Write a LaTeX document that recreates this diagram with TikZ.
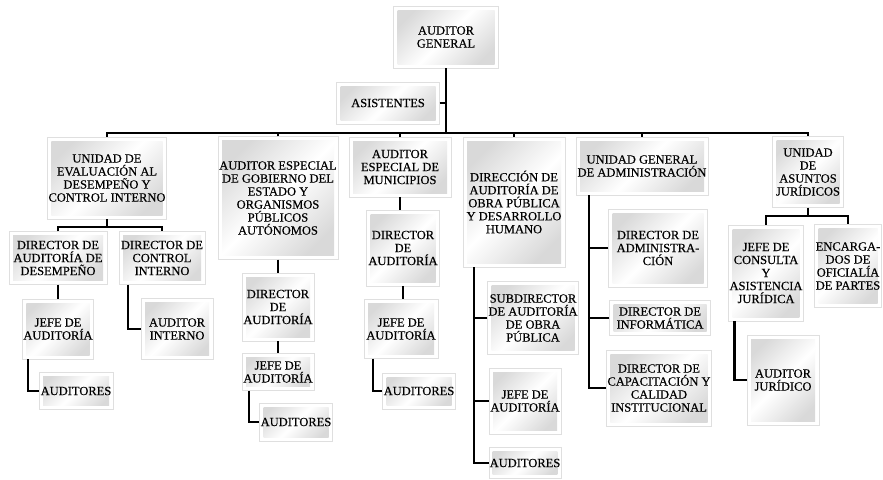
\documentclass[tikz,border=0pt]{standalone}
\usepackage{fontspec}
\setmainfont{Liberation Serif}[FakeBold=0.4]

\tikzset{
  box/.style={draw=gray!25, fill=white, inner sep=1pt, align=center,
    font=\fontsize{12.5}{13}\selectfont,
    path picture={\shade[top color=gray!30, bottom color=gray!30,
        middle color=white, shading angle=45]
      ([shift={(4pt,4pt)}]path picture bounding box.south west) rectangle
      ([shift={(-4pt,-4pt)}]path picture bounding box.north east);}},
  size/.style 2 args={minimum width=#1pt, minimum height=#2pt},
  link/.style={line width=2.5pt, black},
}

\begin{document}
\begin{tikzpicture}[x=1pt, y=-1pt]
  \useasboundingbox (0,0) rectangle (883,479);

  % Top
  \node[box, size={105}{62}] (ag) at (446,37) {AUDITOR\\GENERAL};
  \node[box, size={103}{42}] (asist) at (388,103) {ASISTENTES};

  % First level
  \node[box, size={119}{82}] (ued) at (107,178) {UNIDAD DE\\EVALUACIÓN AL\\DESEMPEÑO Y\\CONTROL INTERNO};
  \node[box, size={120}{123}] (aeg) at (278,198) {AUDITOR ESPECIAL\\DE GOBIERNO DEL\\ESTADO Y\\ORGANISMOS\\PÚBLICOS\\AUTÓNOMOS};
  \node[box, size={102}{60}] (aem) at (400,167) {AUDITOR\\ESPECIAL DE\\MUNICIPIOS};
  \node[box, size={102}{130}] (dao) at (514,202) {DIRECCIÓN DE\\AUDITORÍA DE\\OBRA PÚBLICA\\Y DESARROLLO\\HUMANO};
  \node[box, size={132}{58}] (uga) at (642,166) {UNIDAD GENERAL\\DE ADMINISTRACIÓN};
  \node[box, size={71}{71}] (uaj) at (808,172) {UNIDAD\\DE\\ASUNTOS\\JURÍDICOS};

  % Evaluacion
  \node[box, size={98}{53}] (dad) at (58,258) {DIRECTOR DE\\AUDITORÍA DE\\DESEMPEÑO};
  \node[box, size={86}{53}] (dci) at (162,258) {DIRECTOR DE\\CONTROL\\INTERNO};
  \node[box, size={71}{60}] (jefeA) at (58,329) {JEFE DE\\AUDITORÍA};
  \node[box, size={74}{37}] (audA) at (76,391) {AUDITORES};
  \node[box, size={72}{61}] (aint) at (177,329) {AUDITOR\\INTERNO};

  % Gobierno del estado
  \node[box, size={72}{68}] (dirB) at (278,307) {DIRECTOR\\DE\\AUDITORÍA};
  \node[box, size={72}{37}] (jefeB) at (278,372) {JEFE DE\\AUDITORÍA};
  \node[box, size={73}{38}] (audB) at (296,422) {AUDITORES};

  % Municipios
  \node[box, size={73}{76}] (dirC) at (403,248) {DIRECTOR\\DE\\AUDITORÍA};
  \node[box, size={74}{59}] (jefeC) at (401,329) {JEFE DE\\AUDITORÍA};
  \node[box, size={73}{36}] (audC) at (419,391) {AUDITORES};

  % Obra publica
  \node[box, size={90}{73}] (sub) at (533,318) {SUBDIRECTOR\\DE AUDITORÍA\\DE OBRA\\PÚBLICA};
  \node[box, size={72}{66}] (jefeD) at (525,401) {JEFE DE\\AUDITORÍA};
  \node[box, size={72}{31}] (audD) at (525,463) {AUDITORES};

  % Administracion
  \node[box, size={99}{78}] (dadm) at (658,248) {DIRECTOR DE\\ADMINISTRA-\\CIÓN};
  \node[box, size={101}{35}] (dinf) at (660,318) {DIRECTOR DE\\INFORMÁTICA};
  \node[box, size={102}{76}] (dcap) at (659,388) {DIRECTOR DE\\CAPACITACIÓN Y\\CALIDAD\\INSTITUCIONAL};

  % Juridicos
  \node[box, size={71}{96}] (jcon) at (766,273) {JEFE DE\\CONSULTA\\Y\\ASISTENCIA\\JURÍDICA};
  \node[box, size={67}{83}] (enc) at (848,266) {ENCARGA-\\DOS DE\\OFICIALÍA\\DE PARTES};
  \node[box, size={72}{90}] (ajur) at (783,380) {AUDITOR\\JURÍDICO};

  % Main bus
  \coordinate (bus) at (0,133);
  \draw[link] (ag.south) -- (ag |- bus);
  \draw[link] (asist.east) -- (asist.east -| ag);
  \draw[link] (ued.north) -- (ued |- bus) -- (uaj |- bus) -- (uaj.north);
  \draw[link] (aeg.north) -- (aeg |- bus);
  \draw[link] (aem.north) -- (aem |- bus);
  \draw[link] (dao.north) -- (dao |- bus);
  \draw[link] (uga.north) -- (uga |- bus);

  % Evaluacion links
  \coordinate (busA) at (0,227);
  \draw[link] (ued.south) -- (ued |- busA);
  \draw[link] (dad.north) -- (dad |- busA) -- (dci |- busA) -- (dci.north);
  \draw[link] (dad.south) -- (jefeA.north);
  \draw[link] ([xshift=6pt]jefeA.south west) |- (audA.west);
  \draw[link] ([xshift=9pt]dci.south west) |- (aint.west);

  % Gobierno links
  \draw[link] (aeg.south) -- (dirB.north);
  \draw[link] (dirB.south) -- (jefeB.north);
  \draw[link] ([xshift=7pt]jefeB.south west) |- (audB.west);

  % Municipios links
  \draw[link] (aem.south) -- (aem.south |- dirC.north);
  \draw[link] (dirC.south) -- (dirC.south |- jefeC.north);
  \draw[link] ([xshift=9pt]jefeC.south west) |- (audC.west);

  % Obra publica links
  \coordinate (trunkD) at ([xshift=11pt]dao.south west);
  \draw[link] (trunkD) |- (audD.west);
  \draw[link] (sub.west) -- (sub.west -| trunkD);
  \draw[link] (jefeD.west) -- (jefeD.west -| trunkD);

  % Administracion links
  \coordinate (trunkE) at ([xshift=13pt]uga.south west);
  \draw[link] (trunkE) |- (dcap.west);
  \draw[link] (dadm.west) -- (dadm.west -| trunkE);
  \draw[link] (dinf.west) -- (dinf.west -| trunkE);

  % Juridicos links
  \coordinate (busF) at (0,216);
  \draw[link] (uaj.south) -- (uaj |- busF);
  \draw[link] (jcon.north) -- (jcon |- busF) -- (enc |- busF) -- (enc.north);
  \draw[link] ([xshift=6pt]jcon.south west) |- (ajur.west);
\end{tikzpicture}
\end{document}
